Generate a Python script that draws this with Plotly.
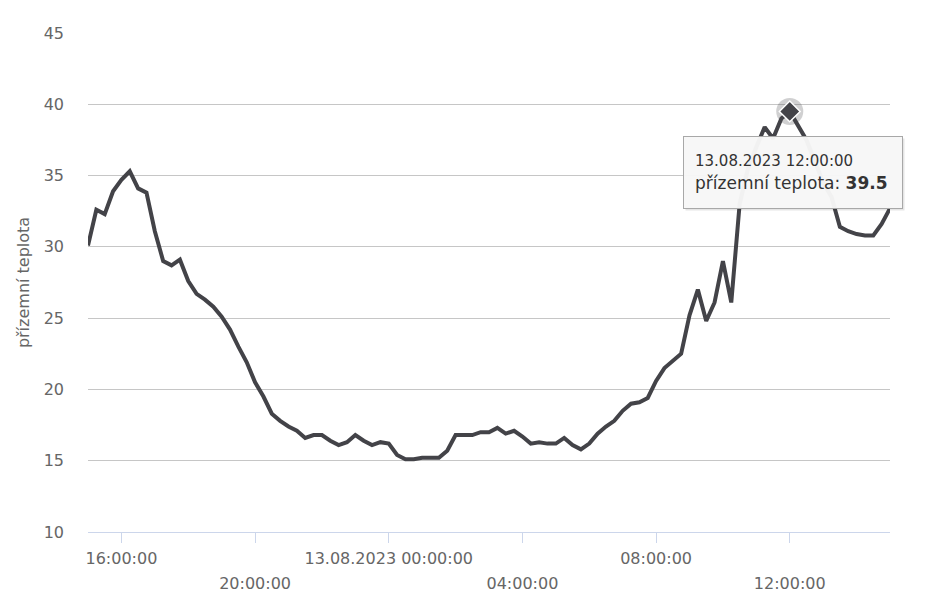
import pandas as pd
import plotly.graph_objects as go

# ---- data ----
series_name = "přízemní teplota"
start_time = "2023-08-12 15:00"
step = "15min"
temps = [
    30.1, 32.6, 32.3, 33.9, 34.7, 35.3, 34.1, 33.8, 31.1, 29.0,
    28.7, 29.1, 27.6, 26.7, 26.3, 25.8, 25.1, 24.2, 23.0, 21.9,
    20.5, 19.5, 18.3, 17.8, 17.4, 17.1, 16.6, 16.8, 16.8, 16.4,
    16.1, 16.3, 16.8, 16.4, 16.1, 16.3, 16.2, 15.4, 15.1, 15.1,
    15.2, 15.2, 15.2, 15.7, 16.8, 16.8, 16.8, 17.0, 17.0, 17.3,
    16.9, 17.1, 16.7, 16.2, 16.3, 16.2, 16.2, 16.6, 16.1, 15.8,
    16.2, 16.9, 17.4, 17.8, 18.5, 19.0, 19.1, 19.4, 20.6, 21.5,
    22.0, 22.5, 25.2, 27.0, 24.8, 26.1, 29.0, 26.1, 33.0, 35.5,
    37.0, 38.4, 37.6, 39.0, 39.5, 38.5, 37.5, 36.0, 34.5, 33.5,
    31.4, 31.1, 30.9, 30.8, 30.8, 31.6, 32.7,
]
times = pd.date_range(start_time, periods=len(temps), freq=step)

tick_vals_row1 = ["2023-08-12 16:00", "2023-08-13 00:00", "2023-08-13 08:00"]
tick_text_row1 = ["16:00:00", "13.08.2023 00:00:00", "08:00:00"]
tick_vals_row2 = ["2023-08-12 20:00", "2023-08-13 04:00", "2023-08-13 12:00"]
tick_text_row2 = ["20:00:00", "04:00:00", "12:00:00"]
y_ticks = [10, 15, 20, 25, 30, 35, 40, 45]

highlight_time = pd.Timestamp("2023-08-13 12:00")
highlight_label = "13.08.2023 12:00:00"
hi_idx = list(times).index(highlight_time)
hi_val = temps[hi_idx]

# ---- style ----
FONT = "DejaVu Sans"
LINE_COLOR = "#434348"
LABEL_COLOR = "#666666"
AXIS_COLOR = "#ccd6eb"
GRID_COLOR = "#c6c6c6"

fig = go.Figure()
fig.add_trace(go.Scatter(
    x=times, y=temps, mode="lines",
    line=dict(color=LINE_COLOR, width=4),
    name=series_name, hoverinfo="skip",
))
# halo
fig.add_trace(go.Scatter(
    x=[times[hi_idx]], y=[hi_val], mode="markers",
    marker=dict(size=27, color="rgba(67,67,72,0.25)", line=dict(width=0)),
    hoverinfo="skip", showlegend=False,
))
# diamond marker
fig.add_trace(go.Scatter(
    x=[times[hi_idx]], y=[hi_val], mode="markers",
    marker=dict(size=16, symbol="diamond", color=LINE_COLOR,
                line=dict(color="#ffffff", width=1.5)),
    hoverinfo="skip", showlegend=False,
))
# dummy trace to hold second x-axis (second row of labels)
fig.add_trace(go.Scatter(
    x=[times[0], times[-1]], y=[None, None], xaxis="x2", mode="lines",
    hoverinfo="skip", showlegend=False,
))

x_range = [times[0], times[-1]]

tooltip_text = (f"<span style='font-size:15px'>{highlight_label}</span><br>"
                f"{series_name}: <b>{hi_val}</b>")

# shadow of tooltip (fixed-size box, no text)
fig.add_annotation(
    x=times[hi_idx], y=hi_val, xref="x", yref="y",
    text=" ", showarrow=True, arrowcolor="rgba(0,0,0,0)",
    ax=5, ay=63, width=196, height=49, borderpad=11,
    font=dict(family=FONT, size=17, color="rgba(0,0,0,0)"),
    bgcolor="rgba(0,0,0,0.10)", bordercolor="rgba(0,0,0,0)", borderwidth=1,
)
fig.add_annotation(
    x=times[hi_idx], y=hi_val, xref="x", yref="y",
    text=tooltip_text, showarrow=True, arrowcolor="rgba(0,0,0,0)",
    ax=3, ay=61, align="left", width=196, height=49, borderpad=11,
    font=dict(family=FONT, size=17, color="#333333"),
    bgcolor="rgba(247,247,247,0.97)", bordercolor="#a8a8a8", borderwidth=1,
)

fig.update_layout(
    width=920, height=588,
    margin=dict(l=80, r=38, t=25, b=64),
    paper_bgcolor="white", plot_bgcolor="white",
    showlegend=False, hovermode=False,
    font=dict(family=FONT, size=16, color=LABEL_COLOR),
    xaxis=dict(
        type="date", range=x_range, automargin=False,
        tickmode="array",
        tickvals=tick_vals_row1 + tick_vals_row2,
        ticktext=tick_text_row1 + [""] * len(tick_vals_row2),
        ticks="outside", ticklen=10, tickwidth=1, tickcolor=AXIS_COLOR,
        showline=True, linecolor=AXIS_COLOR, linewidth=1,
        showgrid=False, zeroline=False,
        ticklabelstandoff=2,
        tickfont=dict(family=FONT, size=16, color=LABEL_COLOR),
    ),
    xaxis2=dict(
        type="date", range=x_range, overlaying="x", anchor="y", side="bottom",
        automargin=False,
        tickmode="array", tickvals=tick_vals_row2, ticktext=tick_text_row2,
        ticks="", showline=False, showgrid=False, zeroline=False,
        ticklabelstandoff=40,
        tickfont=dict(family=FONT, size=16, color=LABEL_COLOR),
    ),
    yaxis=dict(
        range=[10, 45], tickmode="array", tickvals=y_ticks, automargin=False,
        showgrid=True, gridcolor=GRID_COLOR, gridwidth=1,
        zeroline=False, showline=False, ticks="",
        ticklabelstandoff=23,
        tickfont=dict(family=FONT, size=16, color=LABEL_COLOR),
        title=dict(text=series_name, standoff=10,
                   font=dict(family=FONT, size=16, color=LABEL_COLOR)),
    ),
)

fig.write_html("out.html")
